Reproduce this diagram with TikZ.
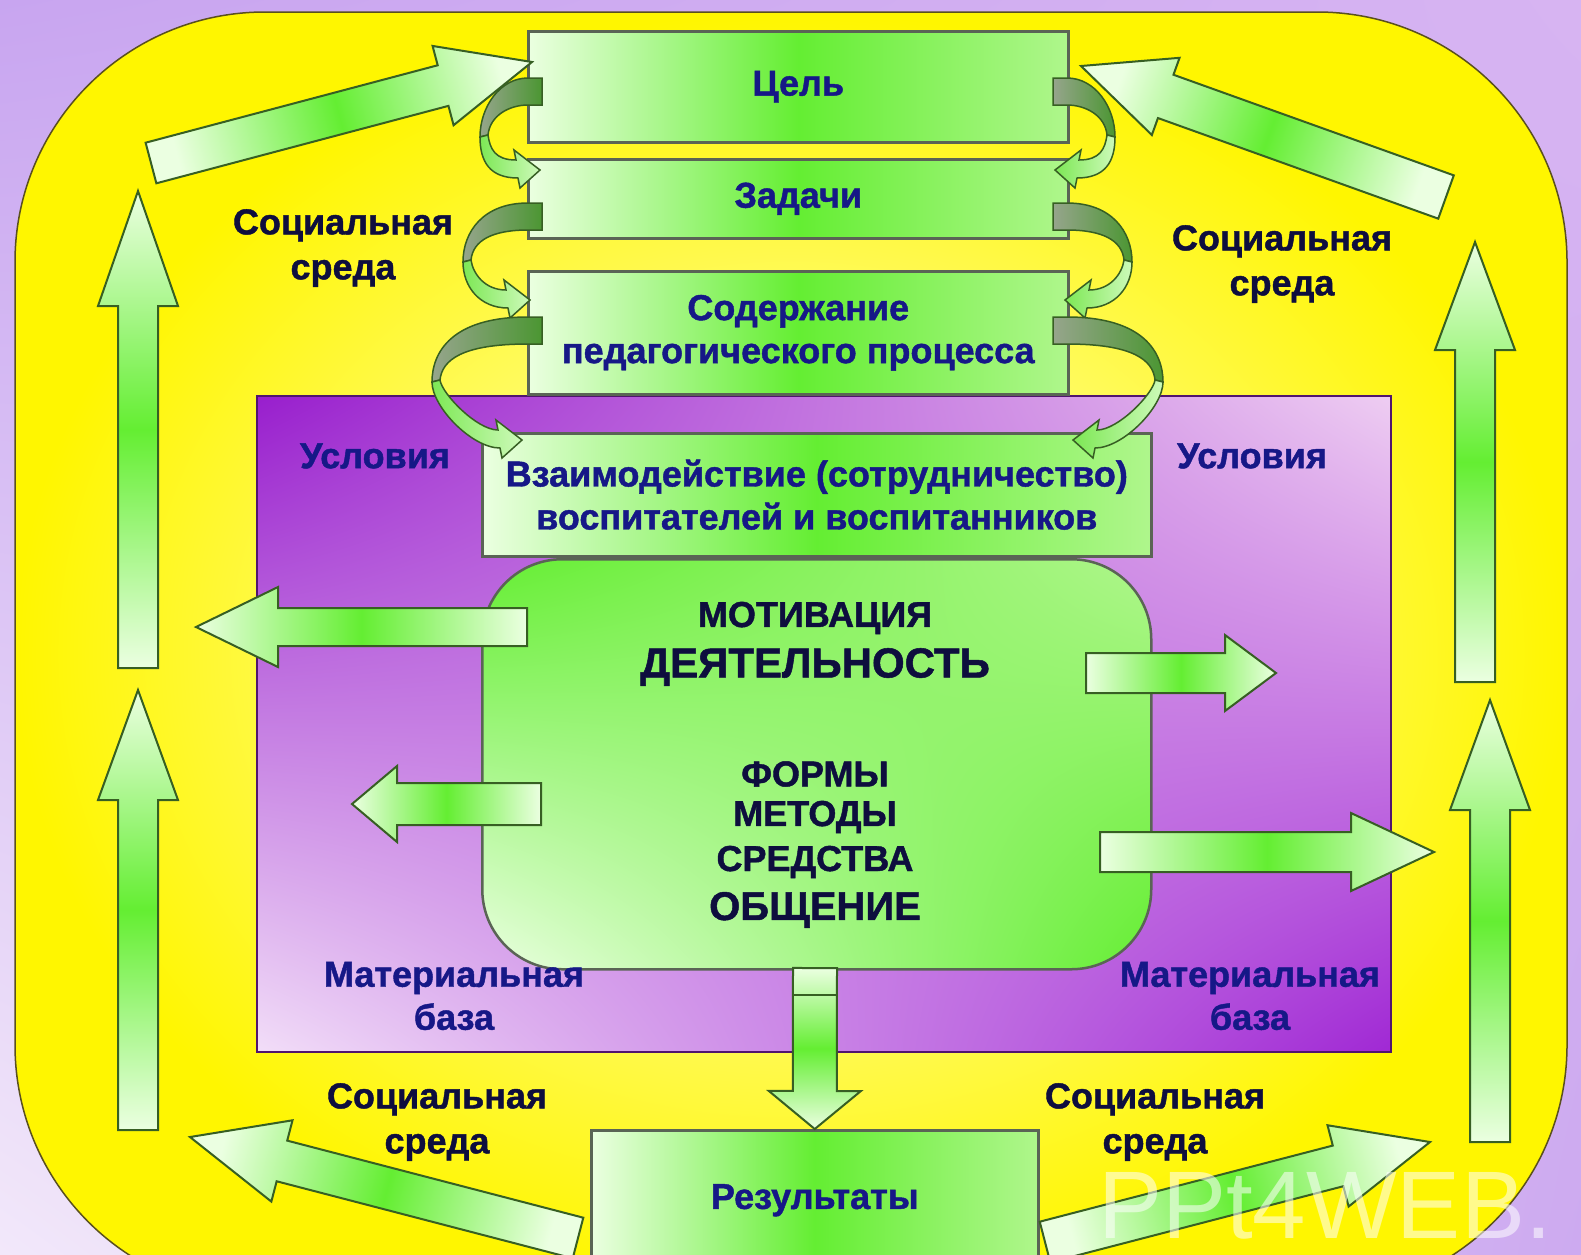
\documentclass[tikz,border=0pt]{standalone}
\usepackage{fontspec}
\setmainfont{Liberation Sans}[BoldFeatures={FakeBold=1.2}]
\usetikzlibrary{calc,shadings}

\definecolor{gpale}{RGB}{235,255,225}
\definecolor{gbright}{RGB}{100,238,50}
\definecolor{glight}{RGB}{175,246,140}
\definecolor{gline}{RGB}{55,95,35}
\definecolor{boxline}{RGB}{90,100,85}
\definecolor{navy}{RGB}{22,24,135}
\definecolor{ink}{RGB}{14,14,62}
\definecolor{yel}{RGB}{255,246,0}
\definecolor{yelpale}{RGB}{255,255,205}
\definecolor{yline}{RGB}{90,80,30}
\definecolor{bgA}{RGB}{200,165,240}
\definecolor{bgB}{RGB}{215,180,242}
\definecolor{bgC}{RGB}{242,232,250}
\definecolor{bgD}{RGB}{205,170,240}
\definecolor{pUL}{RGB}{152,30,205}
\definecolor{pUR}{RGB}{238,205,242}
\definecolor{pLL}{RGB}{242,222,248}
\definecolor{pLR}{RGB}{160,40,212}
\definecolor{pline}{RGB}{80,20,110}
\definecolor{sdA}{RGB}{150,165,140}
\definecolor{sdB}{RGB}{75,150,50}
\definecolor{slA}{RGB}{205,250,185}
\definecolor{slB}{RGB}{125,232,85}

\newcommand\barrow[6][]{%
  \coordinate (bh) at ($(#3)!#6pt!(#2)$);
  \shade[arrowfill,#1] ($(#2)!#4pt!90:(#3)$) -- ($(bh)!#4pt!90:(#3)$) -- ($(bh)!#5pt!90:(#3)$) -- (#3)
    -- ($(bh)!#5pt!-90:(#3)$) -- ($(bh)!#4pt!-90:(#3)$) -- ($(#2)!#4pt!-90:(#3)$) -- cycle;}

\newcommand\spiral[5]{%
  \shade[sdark] (542,#1) -- (528,#1) .. controls (#2+20,#1) and (#2,#3-30) .. (#2,#3)
    -- (#2+8,#3-2) .. controls (#2+10,#3-22) and (#2+30,#1+27) .. (528,#1+27) -- (542,#1+27) -- cycle;
  \shade[slight] (#2,#3) .. controls (#2,#3+25) and (#4-50,#5+8) .. (#4-22,#5+8)
    -- (#4-20,#5+18) -- (#4,#5) -- (#4-26,#5-20) -- (#4-24,#5-10)
    .. controls (#4-45,#5-10) and (#2+10,#3+12) .. (#2+8,#3-2) -- cycle;}

\begin{document}
\begin{tikzpicture}[x=1pt,y=-1pt,
  arrowfill/.style={draw=gline, line width=2pt, line join=miter},
  varr/.style={top color=gpale, bottom color=gpale, middle color=gbright},
  harr/.style={left color=gpale, right color=gpale, middle color=gbright},
  darr/.style={left color=gpale, right color=gpale, middle color=gbright, shading angle=#1},
  sdark/.style={draw=gline, line width=1.5pt, left color=sdA, right color=sdB},
  slight/.style={draw=gline, line width=1.5pt, left color=slB, right color=slA},
  gbox/.style={draw=boxline, line width=2.5pt, left color=gpale, right color=glight, middle color=gbright,
    text=navy, font=\bfseries\fontsize{36}{43}\selectfont, align=center, inner sep=0pt, anchor=north west},
  soc/.style={text=ink, font=\bfseries\fontsize{36}{45}\selectfont, align=center, inner sep=0pt},
  cond/.style={text=navy, font=\bfseries\fontsize{36}{43}\selectfont, align=center, inner sep=0pt},
  inner/.style={text=ink, font=\bfseries\fontsize{36}{43}\selectfont, inner sep=0pt}]

\path[use as bounding box] (0,0) rectangle (1581,1254);
\clip (0,0) rectangle (1581,1254);

% background
\shade[upper left=bgA, upper right=bgB, lower left=bgC, lower right=bgD] (0,0) rectangle (1581,1254);
% yellow field
\shade[inner color=yelpale, outer color=yel, draw=yline, line width=1.5pt, rounded corners=250pt]
  (15,12) rectangle (1567,1295);
% purple field
\shade[upper left=pUL, upper right=pUR, lower left=pLL, lower right=pLR, draw=pline, line width=2.5pt]
  (257,396) rectangle (1391,1052);

% boxes
\node[gbox, minimum width=540pt, minimum height=111pt] (cel) at (527,30) {Цель};
\node[gbox, minimum width=540pt, minimum height=79pt] (zad) at (527,158) {Задачи};
\node[gbox, minimum width=540pt, minimum height=123pt] (sod) at (527,270) {Содержание\\педагогического процесса};
\node[gbox, minimum width=669pt, minimum height=123pt] (vz) at (481,432) {Взаимодействие (сотрудничество)\\воспитателей и воспитанников};
\node[draw=boxline, line width=2.5pt, rounded corners=80pt, minimum width=669pt, minimum height=410pt,
  anchor=north west, upper left=gbright, upper right=glight, lower left=gpale, lower right=gbright] (mot) at (481,558) {};
\node[gbox, minimum width=447pt, minimum height=140pt] (res) at (590,1129) {Результаты};

% spirals
\spiral{78}{480}{137}{540}{170}
\spiral{203}{463}{262}{530}{300}
\spiral{317}{432}{382}{522}{440}
\begin{scope}[shift={(1595,0)}, xscale=-1]
\spiral{78}{480}{137}{540}{170}
\spiral{203}{463}{262}{530}{300}
\spiral{317}{432}{382}{522}{440}
\end{scope}

% arrow end points
\coordinate (d1a) at (151,163);  \coordinate (d1b) at (532,62);
\coordinate (d2a) at (1446,197); \coordinate (d2b) at (1081,66);
\coordinate (d3a) at (578,1238); \coordinate (d3b) at (190,1137);
\coordinate (d4a) at (1045,1242); \coordinate (d4b) at (1430,1142);
\coordinate (v1a) at (138,668);  \coordinate (v1b) at (138,191);
\coordinate (v2a) at (138,1130); \coordinate (v2b) at (138,690);
\coordinate (v3a) at (1475,682); \coordinate (v3b) at (1475,242);
\coordinate (v4a) at (1490,1142); \coordinate (v4b) at (1490,700);
\coordinate (h1a) at (527,627);  \coordinate (h1b) at (196,627);
\coordinate (h2a) at (541,804);  \coordinate (h2b) at (352,804);
\coordinate (h3a) at (1086,673); \coordinate (h3b) at (1276,673);
\coordinate (h4a) at (1100,852); \coordinate (h4b) at (1434,852);
\coordinate (dn) at (815,968);

% block arrows
\barrow[darr=104.8]{d1a}{d1b}{21}{41}{92}
\barrow[darr=250.3]{d2a}{d2b}{23}{41}{90}
\barrow[darr=255.4]{d3a}{d3b}{21}{42}{95}
\barrow[darr=104.6]{d4a}{d4b}{21}{42}{95}
\barrow[varr]{v1a}{v1b}{20}{40}{115}
\barrow[varr]{v2a}{v2b}{20}{40}{110}
\barrow[varr]{v3a}{v3b}{20}{40}{108}
\barrow[varr]{v4a}{v4b}{20}{40}{110}
\barrow[harr]{h1a}{h1b}{19}{40}{82}
\barrow[harr]{h2a}{h2b}{21}{38}{45}
\barrow[harr]{h3a}{h3b}{20}{38}{51}
\barrow[harr]{h4a}{h4b}{20}{39}{83}
\barrow[varr]{dn}{res.north}{22}{46}{38}
\draw[gline, line width=2pt] ($(dn)+(-22,27)$) -- ($(dn)+(22,27)$);

% labels
\node[soc] (s1) at (343,248) {Социальная\\среда};
\node[soc] (s2) at (1282,264) {Социальная\\среда};
\node[soc] (s3) at (437,1122) {Социальная\\среда};
\node[soc] (s4) at (1155,1122) {Социальная\\среда};
\node[cond] (u1) at (375,456) {Условия};
\node[cond] (u2) at (1252,456) {Условия};
\node[cond] (m1) at (454,996) {Материальная\\база};
\node[cond] (m2) at (1250,996) {Материальная\\база};

\node[inner] (t1) at (815,618) {МОТИВАЦИЯ};
\node[inner, font=\bfseries\fontsize{42}{48}\selectfont] (t2) at (815,667) {ДЕЯТЕЛЬНОСТЬ};
\node[inner] (t3) at (815,774) {ФОРМЫ};
\node[inner] (t4) at (815,817) {МЕТОДЫ};
\node[inner] (t5) at (815,862) {СРЕДСТВА};
\node[inner, font=\bfseries\fontsize{40}{46}\selectfont] (t6) at (815,910) {ОБЩЕНИЕ};

\node[anchor=base west, text=white, opacity=0.55, font=\fontsize{96}{96}\selectfont, inner sep=0pt,
  text height=72pt, text depth=0pt] (wm) at (1098,1238) {PPt4WEB.};
\end{tikzpicture}
\end{document}
